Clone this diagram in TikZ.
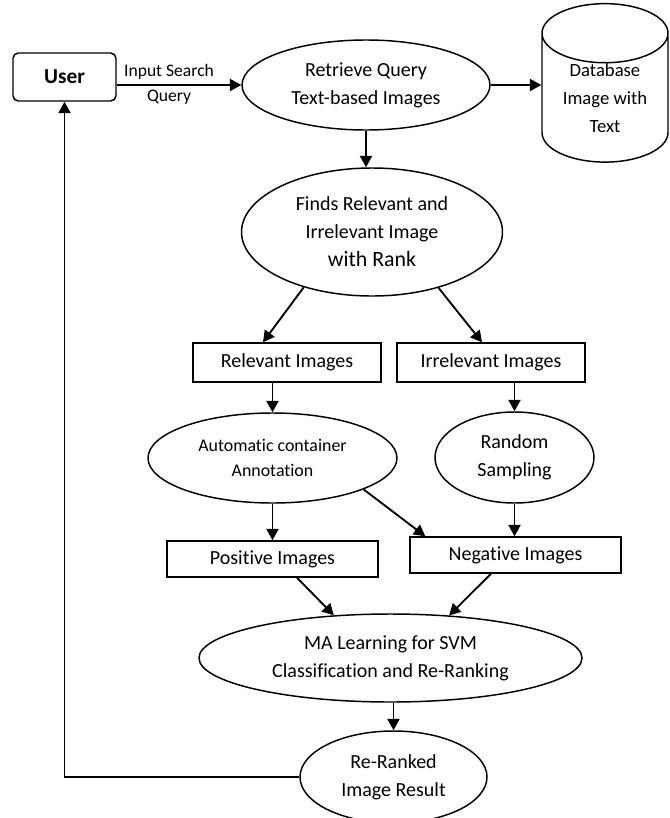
\documentclass[tikz,border=0pt]{standalone}
\usepackage{fontspec}
\setmainfont{Carlito}[Ligatures=NoCommon]
\usetikzlibrary{arrows.meta,
  shapes.geometric,
  calc
}
\tikzset{>={Triangle[length=8.5pt,width=9pt]}}
\tikzset{
  blk/.style={draw,line width=1.1pt,inner sep=0pt,align=center,font=\fontsize{15}{21}\selectfont},
  boxnode/.style={blk,rectangle},
  ellnode/.style={blk,ellipse},
  link/.style={->,line width=1.4pt}
}

\begin{document}
\begin{tikzpicture}[x=0.75pt,y=-0.75pt]
  \useasboundingbox (0,0) rectangle (669,818);

  % Query side
  \node[boxnode,rounded corners=4pt,minimum width=77.25pt,minimum height=36pt,font=\fontsize{16}{20}\selectfont\bfseries] (user) at (64.5,77) {User};
  \node[ellnode,minimum width=186pt,minimum height=67.5pt] (retrieve) at (366,85) {Retrieve Query\\Text-based Images};
  \node[blk,cylinder,shape border rotate=90,aspect=0.7,minimum width=94.5pt,minimum height=105.75pt,font=\fontsize{14}{21}\selectfont] (db) at (605,98) {Database\\Image with\\Text};
  \node[ellnode,minimum width=195.75pt,minimum height=96pt] (finds) at (372,232) {Finds Relevant and\\Irrelevant Image\\{\fontsize{16.4}{21}\selectfont with Rank}};

  % Split
  \node[boxnode,minimum width=141pt,minimum height=29.25pt] (relevant) at (287,362.5) {Relevant Images};
  \node[boxnode,minimum width=141pt,minimum height=29.25pt] (irrelevant) at (491,362.5) {Irrelevant Images};
  \node[ellnode,minimum width=186.75pt,minimum height=67.5pt,font=\fontsize{13.4}{19}\selectfont] (auto) at (272.5,458) {Automatic container\\Annotation};
  \node[ellnode,minimum width=119.25pt,minimum height=68.25pt] (random) at (514.5,457.5) {Random\\Sampling};
  \node[boxnode,minimum width=158.25pt,minimum height=27pt] (positive) at (272.5,559) {Positive Images};
  \node[boxnode,minimum width=158.25pt,minimum height=27pt] (negative) at (515.5,555) {Negative Images};

  % Learning and result
  \node[ellnode,minimum width=287.25pt,minimum height=66pt] (ma) at (390.5,658) {MA Learning for SVM\\Classification and Re-Ranking};
  \node[ellnode,minimum width=140.25pt,minimum height=69pt] (rerank) at (393.5,777) {Re-Ranked\\Image Result};

  % Connectors
  \draw[link] (user.east |- retrieve.west) -- node[pos=0.42,above,font=\fontsize{13.2}{18}\selectfont] {Input Search} node[pos=0.42,below,font=\fontsize{13.2}{18}\selectfont] {Query} (retrieve.west);
  \draw[link] (retrieve.east) -- (retrieve.east -| db.west);
  \draw[link] (retrieve.south) -- (retrieve.south |- finds.north);
  \draw[link] (finds.219) -- ($(relevant.north)+(-24,0)$);
  \draw[link] (finds.320) -- ($(irrelevant.north)+(-9,0)$);
  \draw[link] (auto.north |- relevant.south) -- (auto.north);
  \draw[link] (random.north |- irrelevant.south) -- (random.north);
  \draw[link] (auto.south) -- (positive.north);
  \draw[link] (auto.341) -- ($(negative.north west)+(16,0)$);
  \draw[link] (random.south) -- (random.south |- negative.north);
  \draw[link] ($(positive.south)+(24.5,0)$) -- (ma.143);
  \draw[link] ($(negative.south)+(-24.5,0)$) -- (ma.36);
  \draw[link] (rerank.north |- ma.south) -- (rerank.north);
  \draw[link] (rerank.west) -- (user.south |- rerank.west) -- (user.south);
\end{tikzpicture}
\end{document}
